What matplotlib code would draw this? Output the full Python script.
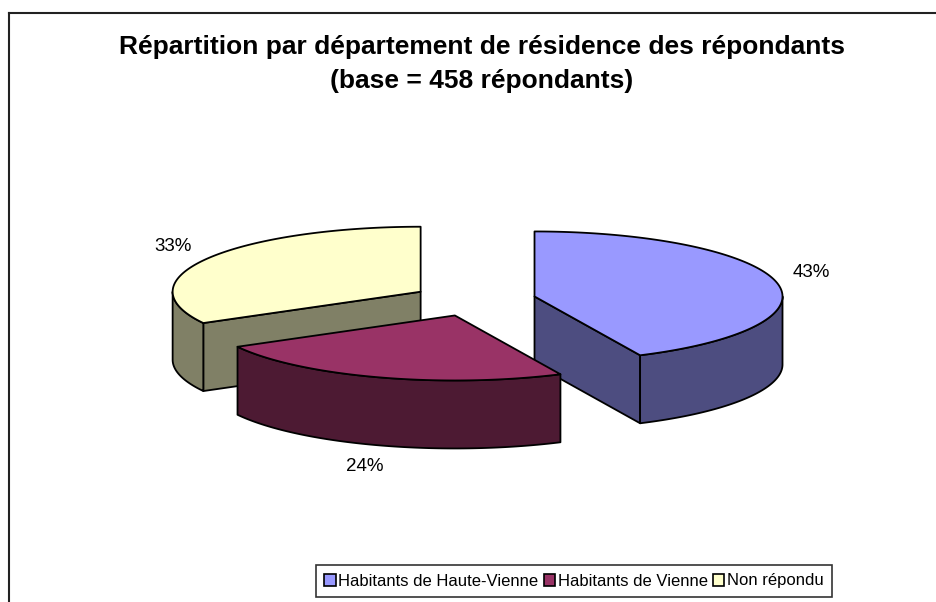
import numpy as np
import matplotlib.pyplot as plt
from matplotlib.patches import Polygon, Patch

plt.rcParams['font.family'] = ['Liberation Sans', 'DejaVu Sans']

# Données
labels = ['Habitants de Haute-Vienne', 'Habitants de Vienne', 'Non répondu']
values = [43, 24, 33]
top_colors = ['#9999FF', '#993366', '#FFFFCC']
side_colors = ['#4D4D80', '#4D1A33', '#808066']
title1 = 'Répartition par département de résidence des répondants'
title2 = '(base = 458 répondants)'

# Géométrie du camembert 3D (pixels)
cx, cy = 474, 300
a, b = 248, 65
depth = 68
explode = 0.25

fig = plt.figure(figsize=(9.36, 6.02), dpi=100)
ax = fig.add_axes([0, 0, 1, 1])
ax.set_xlim(0, 936)
ax.set_ylim(602, 0)
ax.axis('off')

# cadre
ax.plot([9, 936], [13, 13], color='#222222', lw=1.5)
ax.plot([9, 9], [13, 602], color='#222222', lw=1.5)

ax.text(482, 47, title1, ha='center', va='center', fontsize=19, fontweight='bold')
ax.text(482, 81, title2, ha='center', va='center', fontsize=19, fontweight='bold')


def pt(c, th, r=1.0):
    t = np.radians(th)
    return np.array([c[0] + a * r * np.sin(t), c[1] - b * r * np.cos(t)])


total = sum(values)
slices = []
start = 0.0
for i, v in enumerate(values):
    end = start + 360.0 * v / total
    mid = np.radians((start + end) / 2)
    c = np.array([cx + explode * a * np.sin(mid), cy - explode * b * np.cos(mid)])
    slices.append((i, start, end, c))
    start = end

ek = dict(edgecolor='black', lw=1.3, joinstyle='round')
down = np.array([0, depth])

for i, t1, t2, c in sorted(slices, key=lambda s: s[3][1]):
    # faces radiales visibles
    for th, nrm in ((t1, t1 - 90), (t2, t2 + 90)):
        if np.cos(np.radians(nrm)) < -1e-6:
            p = pt(c, th)
            ax.add_patch(Polygon([c, p, p + down, c + down], closed=True,
                                 facecolor=side_colors[i], **ek))
    # paroi extérieure
    lo, hi = max(t1, 90), min(t2, 270)
    if lo < hi:
        th = np.linspace(lo, hi, 120)
        arc = np.array([pt(c, t) for t in th])
        poly = np.vstack([arc, arc[::-1] + down])
        ax.add_patch(Polygon(poly, closed=True, facecolor=side_colors[i], **ek))
    # dessus
    th = np.linspace(t1, t2, 200)
    arc = np.array([pt(c, t) for t in th])
    ax.add_patch(Polygon(np.vstack([c, arc]), closed=True,
                         facecolor=top_colors[i], **ek))

# étiquettes
for i, t1, t2, c in slices:
    mid = (t1 + t2) / 2
    x, y = pt(c, mid, 1.15)
    if np.cos(np.radians(mid)) < 0:
        ax.text(x - 2, y + depth + 3, f'{values[i]}%', ha='center', va='top', fontsize=13.5)
    else:
        ax.text(x - 2, y + 1, f'{values[i]}%', ha='center', va='bottom', fontsize=13.5)

handles = [Patch(facecolor=top_colors[i], edgecolor='black', lw=1.2) for i in range(3)]
leg = fig.legend(handles, labels, loc='center', bbox_to_anchor=(574 / 936, 1 - 581 / 602),
                 ncol=3, fontsize=12, frameon=True, fancybox=False,
                 handlelength=0.7, handleheight=0.7, handletextpad=0.15,
                 columnspacing=0.3, borderpad=0.5, borderaxespad=0)
leg.get_frame().set_edgecolor('black')
leg.get_frame().set_linewidth(1.2)

plt.savefig('out.png', dpi=100)
